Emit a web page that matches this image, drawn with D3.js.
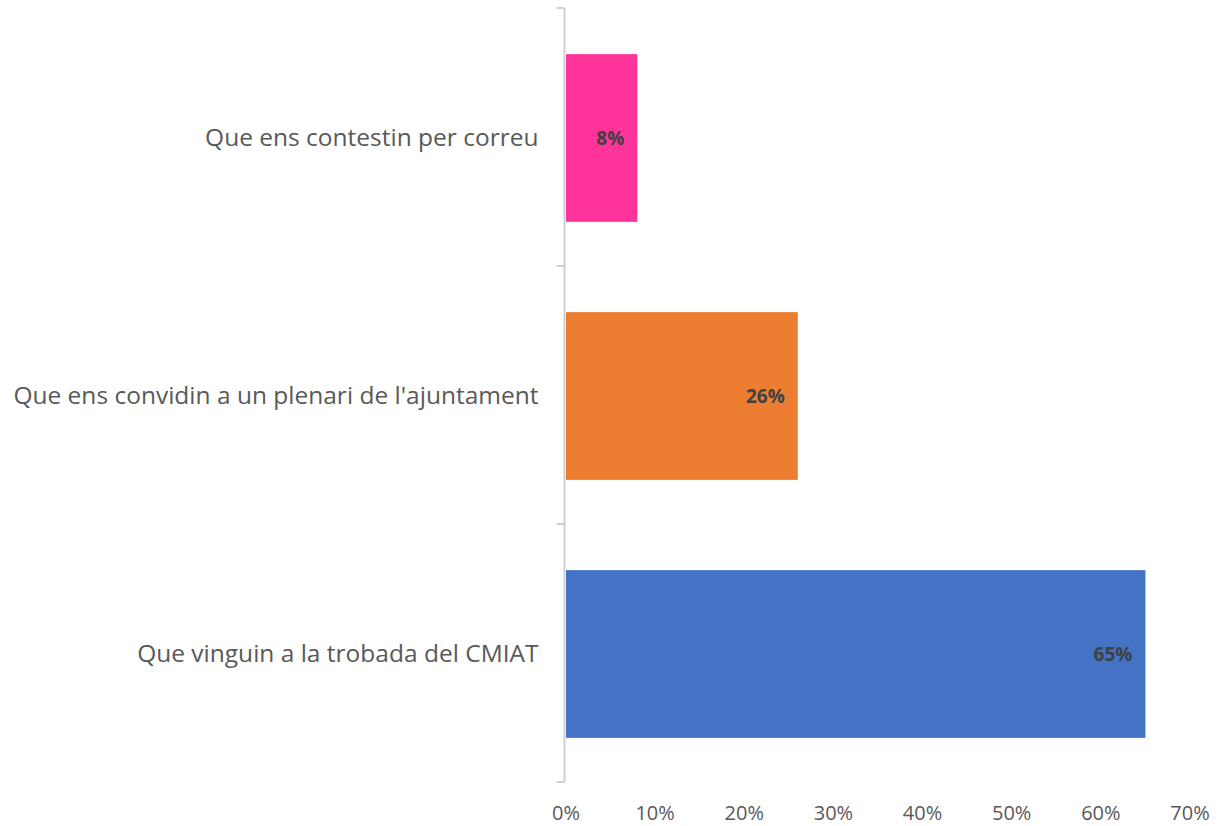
<body style="margin:0;background:#fff">
<script src="https://d3js.org/d3.v7.min.js"></script>
<script>
  // categories from top to bottom, with their shares
  var categories = ["Que ens contestin per correu", "Que ens convidin a un plenari de l'ajuntament", "Que vinguin a la trobada del CMIAT"];
  var values = [0.08, 0.26, 0.65];
  var colors = ["#FF3399", "#ED7D31", "#4472C4"];
  var xTicks = [0, 0.1, 0.2, 0.3, 0.4, 0.5, 0.6, 0.7];

  var width = 1218, height = 826;
  var svg = d3.select("body").append("svg").attr("width", width).attr("height", height)
      .style("font-family", "'Open Sans', sans-serif");

  var x = d3.scaleLinear().domain([0, 0.7]).range([566, 1190]);
  var y = d3.scaleBand().domain(categories).range([8, 782]).paddingInner(0.35).paddingOuter(0.175);

  // value axis labels (no line)
  svg.selectAll(".xt").data(xTicks).enter().append("text")
     .attr("x", function(d) { return x(d); })
     .attr("y", 820)
     .attr("text-anchor", "middle")
     .attr("fill", "#595959")
     .style("font-size", "20px")
     .text(d3.format(".0%"));

  // bars
  svg.selectAll(".bar").data(values).enter().append("rect")
     .attr("x", x(0))
     .attr("y", function(d, i) { return y(categories[i]) + 1; })
     .attr("width", function(d) { return x(d) - x(0); })
     .attr("height", y.bandwidth())
     .attr("fill", function(d, i) { return colors[i]; });

  // category axis
  var yAxis = d3.axisLeft(y).tickSize(0).tickPadding(26);
  var g = svg.append("g").attr("transform", "translate(564.5,0)").call(yAxis);
  g.select(".domain").attr("stroke", "#d0d0d0").attr("stroke-width", 2).attr("d", "M0,8V782");
  g.selectAll("text").attr("fill", "#595959").attr("dy", "0.36em").style("font-size", "24.5px").style("font-family", "'Open Sans', sans-serif");
  var step = y.step();
  var bounds = [0, 1, 2, 3].map(function(i) { return 8 + i * step; });
  g.selectAll(".sep").data(bounds).enter().append("line")
     .attr("x1", -8).attr("x2", 0)
     .attr("y1", function(d) { return d; }).attr("y2", function(d) { return d; })
     .attr("stroke", "#d0d0d0").attr("stroke-width", 2);

  // data labels
  svg.selectAll(".lab").data(values).enter().append("text")
     .attr("x", function(d) { return x(d) - 13; })
     .attr("y", function(d, i) { return y(categories[i]) + y.bandwidth() / 2 + 8; })
     .attr("text-anchor", "end")
     .attr("fill", "#404040")
     .style("font-weight", "bold")
     .style("font-size", "19px")
     .text(d3.format(".0%"));
</script>
</body>
